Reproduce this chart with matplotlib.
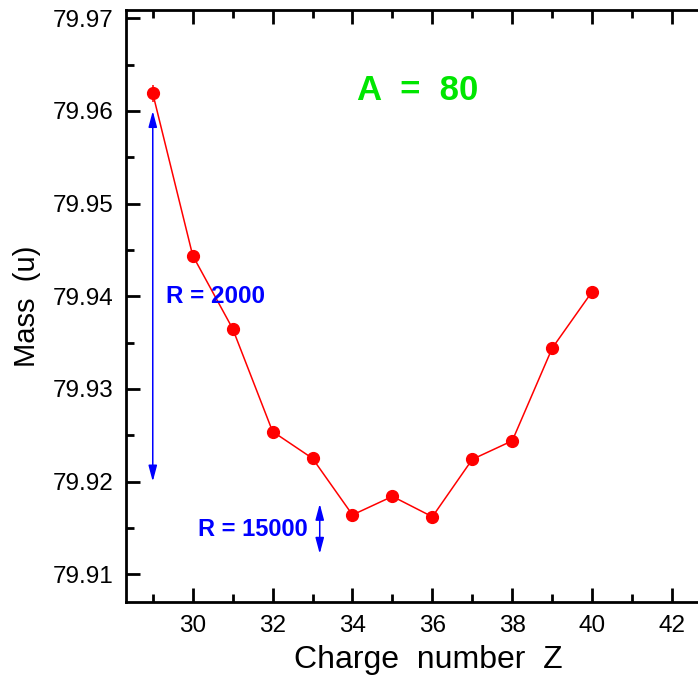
import matplotlib
matplotlib.use("Agg")
import matplotlib.pyplot as plt
from matplotlib.ticker import MultipleLocator

plt.rcParams['font.family'] = ['Liberation Sans', 'DejaVu Sans']

z = [29, 30, 31, 32, 33, 34, 35, 36, 37, 38, 39, 40]
mass = [79.9619, 79.9444, 79.9365, 79.9254, 79.9225, 79.9164,
        79.9184, 79.9162, 79.9224, 79.9244, 79.9344, 79.9405]
err = [0.0009] + [0] * 11

fig = plt.figure(figsize=(6.98, 6.78), dpi=100)
ax = fig.add_axes([126 / 698, 76 / 678, 1 - 126 / 698, 592 / 678])

ax.plot(z, mass, color='red', lw=1.1, marker='o', ms=8.5, zorder=3)
ax.errorbar(z[:1], mass[:1], yerr=err[:1], fmt='none', ecolor='red', elinewidth=1.1)

# resolution arrows
arrow = dict(arrowstyle='<|-|>,head_length=0.6,head_width=0.16', color='blue',
             lw=1.1, mutation_scale=16, shrinkA=0, shrinkB=0)
ax.annotate('', xy=(29, 79.9200), xytext=(29, 79.9600), arrowprops=arrow)
ax.text(29.33, 79.9400, 'R = 2000', color='blue', fontsize=17.5, fontweight='bold',
        va='center', ha='left')
ax.annotate('', xy=(33.18, 79.9122), xytext=(33.18, 79.9176), arrowprops=arrow)
ax.text(32.88, 79.9148, 'R = 15000', color='blue', fontsize=17, fontweight='bold',
        va='center', ha='right')

ax.text(35.62, 79.9622, 'A  =  80', color='#00e600', fontsize=25, fontweight='bold',
        ha='center', va='center')

ax.set_xlim(28.33, 42.65)
ax.set_ylim(79.907, 79.9709)
ax.xaxis.set_major_locator(MultipleLocator(2))
ax.xaxis.set_minor_locator(MultipleLocator(1))
ax.yaxis.set_major_locator(MultipleLocator(0.01))
ax.yaxis.set_minor_locator(MultipleLocator(0.005))
ax.yaxis.set_major_formatter(plt.FormatStrFormatter('%.2f'))

ax.tick_params(which='both', direction='in', top=True, right=False,
               width=2, labelsize=17.5, pad=9)
ax.tick_params(which='major', length=10)
ax.tick_params(which='minor', length=6)
for s in ['left', 'bottom', 'top']:
    ax.spines[s].set_linewidth(2)
ax.spines['right'].set_visible(False)

ax.set_xlabel('Charge  number  Z', fontsize=23)
ax.set_ylabel('Mass  (u)', fontsize=21)
ax.xaxis.set_label_coords(0.528, -0.072)
ax.yaxis.set_label_coords(-0.148, 0.5)

fig.savefig('out.png', dpi=100)
